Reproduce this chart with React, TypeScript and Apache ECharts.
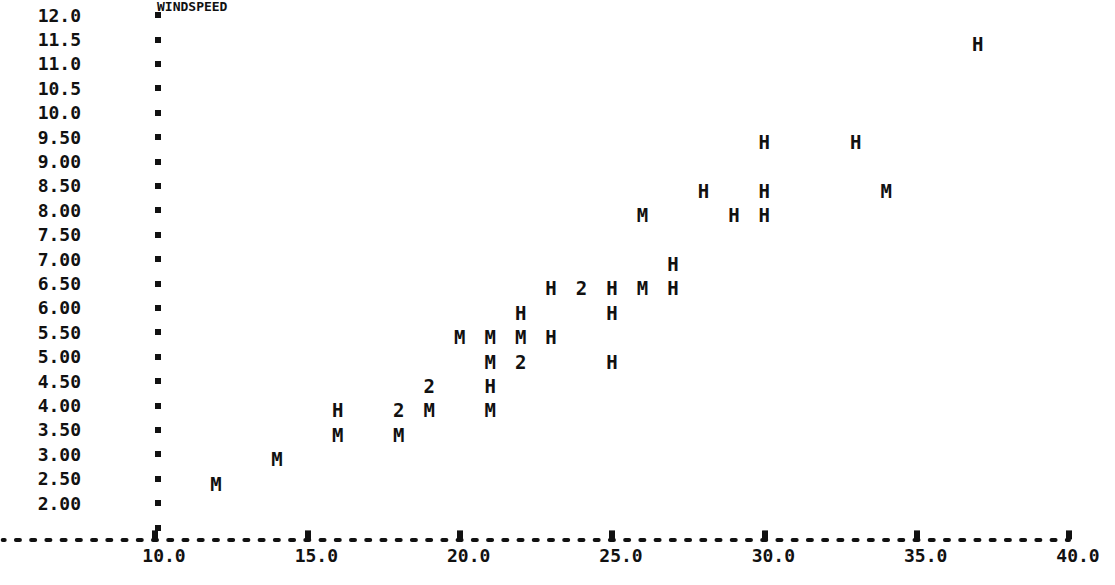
import React, { useEffect, useRef } from 'react';
import * as echarts from 'echarts';

// Partially visible heading at the top edge of the scan
const titleText = 'WINDSPEED';

// Axis ticks and their printed labels
const xTickValues = [10, 15, 20, 25, 30, 35, 40];
const xTickLabels = ['10.0', '15.0', '20.0', '25.0', '30.0', '35.0', '40.0'];
const yTickValues = [2.0, 2.5, 3.0, 3.5, 4.0, 4.5, 5.0, 5.5, 6.0, 6.5, 7.0, 7.5, 8.0, 8.5, 9.0, 9.5, 10.0, 10.5, 11.0, 11.5, 12.0];
const yTickLabels = ['2.00', '2.50', '3.00', '3.50', '4.00', '4.50', '5.00', '5.50', '6.00', '6.50', '7.00', '7.50', '8.00', '8.50', '9.00', '9.50', '10.0', '10.5', '11.0', '11.5', '12.0'];

// Plotted observations [x, windspeed], by printed symbol
const hPoints = [
  [16, 4.0], [21, 4.5], [23, 5.5], [25, 5.0], [22, 6.0], [25, 6.0],
  [23, 6.5], [25, 6.5], [27, 6.5], [27, 7.0], [29, 8.0], [30, 8.0],
  [28, 8.5], [30, 8.5], [30, 9.5], [33, 9.5], [37, 11.5],
];
const mPoints = [
  [12, 2.5], [14, 3.0], [16, 3.5], [18, 3.5], [19, 4.0], [21, 4.0],
  [21, 5.0], [20, 5.5], [21, 5.5], [22, 5.5], [26, 6.5], [26, 8.0], [34, 8.5],
];
const twoPoints = [
  [18, 4.0], [19, 4.5], [22, 5.0], [24, 6.5],
];

export default function App() {
  const ref = useRef<HTMLDivElement>(null);

  useEffect(() => {
    const chart = echarts.init(ref.current as HTMLDivElement, null, { renderer: 'svg' });
    const font = '"DejaVu Sans Mono", "Liberation Mono", monospace';
    const ink = '#111111';

    const mk = (name: string, data: number[][], ch: string) => ({
      name,
      type: 'scatter',
      data,
      symbol: 'rect',
      symbolSize: 1,
      itemStyle: { color: 'rgba(255,255,255,0)' },
      silent: true,
      emphasis: { disabled: true },
      label: {
        show: true,
        position: 'inside',
        offset: [0, 5],
        formatter: ch,
        fontFamily: font,
        fontWeight: 'bold',
        fontSize: 19,
        color: ink,
        opacity: 1,
        textBorderWidth: 0,
        textBorderColor: 'transparent',
      },
    });

    chart.setOption({
      animation: false,
      backgroundColor: '#ffffff',
      grid: { left: 2.7, right: 46, top: 15, bottom: 57.6, containLabel: false, outerBoundsMode: 'none' },
      xAxis: {
        type: 'value',
        min: 5,
        max: 40,
        interval: 5,
        offset: 12,
        splitLine: { show: false },
        axisLine: { show: true, lineStyle: { color: ink, width: 4, type: [4, 11.23], dashOffset: 2 } },
        axisTick: { show: true, inside: true, length: 9, customValues: xTickValues, lineStyle: { color: ink, width: 6 } },
        axisLabel: {
          customValues: xTickValues,
          formatter: (v: number) => {
            const i = xTickValues.indexOf(v);
            return i >= 0 ? xTickLabels[i] : '';
          },
          margin: 7,
          padding: [0, 0, 0, 18],
          fontFamily: font,
          fontWeight: 'bold',
          fontSize: 18,
          color: ink,
        },
      },
      yAxis: {
        type: 'value',
        min: 1.5,
        max: 12,
        interval: 0.5,
        offset: -158.3,
        splitLine: { show: false },
        axisLine: { show: false },
        axisTick: { show: true, length: 6, lineStyle: { color: ink, width: 6 } },
        axisLabel: {
          formatter: (v: number) => {
            const i = yTickValues.findIndex((t) => Math.abs(t - v) < 1e-6);
            return i >= 0 ? yTickLabels[i] : '';
          },
          margin: 80,
          fontFamily: font,
          fontWeight: 'bold',
          fontSize: 18,
          color: ink,
        },
      },
      graphic: [
        {
          type: 'text',
          x: 157,
          y: 0,
          silent: true,
          style: { text: titleText, font: 'bold 13px "DejaVu Sans Mono", monospace', fill: ink, verticalAlign: 'top' },
        },
      ],
      series: [mk('H', hPoints, 'H'), mk('M', mPoints, 'M'), mk('2', twoPoints, '2')],
    });

    return () => chart.dispose();
  }, []);

  return <div ref={ref} style={{ position: 'fixed', left: 0, top: 0, width: 1115, height: 585 }} />;
}
